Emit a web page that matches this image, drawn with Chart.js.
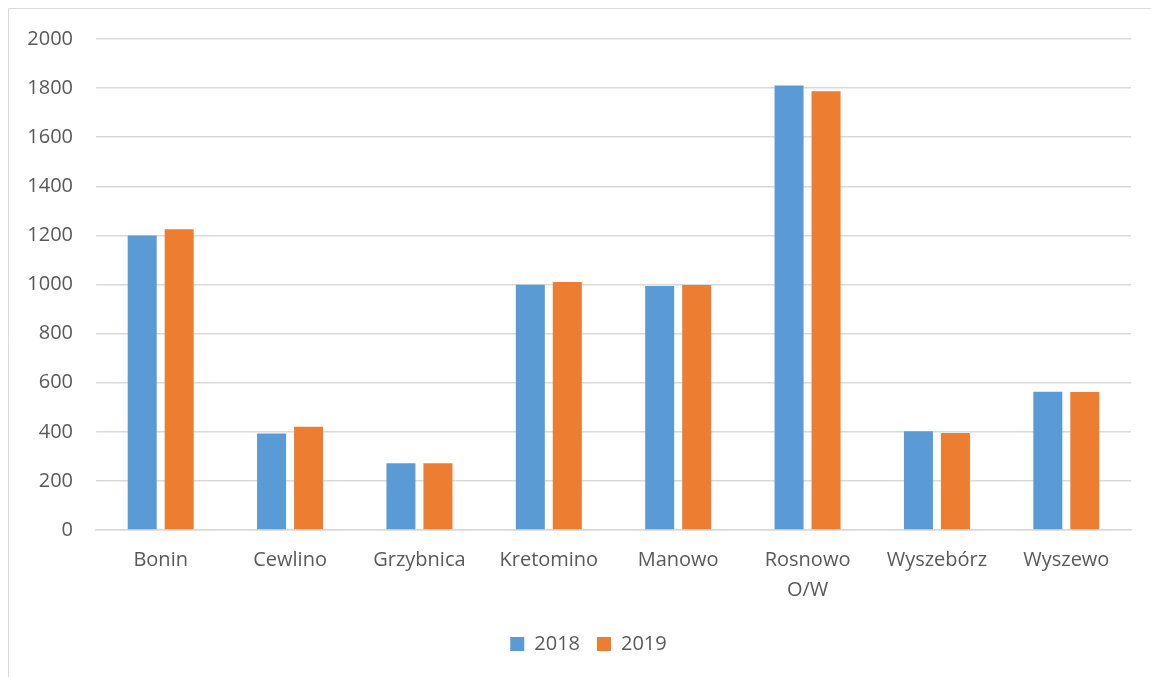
<!DOCTYPE html>
<html>
<head>
<meta charset="utf-8">
<script src="https://cdn.jsdelivr.net/npm/chart.js@4/dist/chart.umd.min.js"></script>
<style>
  html, body { margin: 0; padding: 0; background: #fff; }
  #wrap { position: relative; width: 1151px; height: 677px; }
</style>
</head>
<body>
<div id="wrap"><canvas id="c" width="1151" height="677"></canvas></div>
<script>
const categories = ['Bonin', 'Cewlino', 'Grzybnica', 'Kretomino', 'Manowo', ['Rosnowo', 'O/W'], 'Wyszebórz', 'Wyszewo'];
const seriesNames = ['2018', '2019'];
const values2018 = [1200, 393, 272, 999, 994, 1811, 402, 563];
const values2019 = [1225, 421, 272, 1010, 998, 1787, 395, 562];
const yTicks = [0, 200, 400, 600, 800, 1000, 1200, 1400, 1600, 1800, 2000];

const frame = {
  id: 'frame',
  beforeDraw(chart) {
    const ctx = chart.ctx;
    ctx.save();
    ctx.strokeStyle = '#d9d9d9';
    ctx.lineWidth = 1;
    ctx.beginPath();
    ctx.moveTo(8.5, 677);
    ctx.lineTo(8.5, 8.5);
    ctx.lineTo(1151, 8.5);
    ctx.stroke();
    ctx.restore();
  }
};

const legendShift = {
  id: 'legendShift',
  afterLayout(chart) {
    if (chart.legend) {
      chart.legend.left += 18;
      chart.legend.right += 18;
    }
  }
};

const FONT = '"Open Sans", "Liberation Sans", sans-serif';

new Chart(document.getElementById('c'), {
  type: 'bar',
  data: {
    labels: categories,
    datasets: [
      { label: seriesNames[0], data: values2018, backgroundColor: '#5B9BD5', borderWidth: 0 },
      { label: seriesNames[1], data: values2019, backgroundColor: '#ED7D31', borderWidth: 0 }
    ]
  },
  options: {
    responsive: false,
    animation: false,
    devicePixelRatio: 1,
    layout: { padding: { top: 39, left: 10, right: 20, bottom: 13 } },
    datasets: { bar: { categoryPercentage: 0.572, barPercentage: 0.784 } },
    plugins: {
      tooltip: { enabled: false },
      legend: {
        position: 'bottom',
        labels: {
          boxWidth: 14, boxHeight: 14, padding: 17,
          color: '#595959',
          font: { family: FONT, size: 20 }
        }
      }
    },
    scales: {
      x: {
        grid: { display: false, drawTicks: false },
        border: { color: '#d9d9d9', width: 1.5 },
        ticks: {
          color: '#595959', padding: 15, maxRotation: 0, autoSkip: false,
          font: { family: FONT, size: 20, lineHeight: 1.5 }
        },
        afterFit(s) { s.height = 87; }
      },
      y: {
        min: 0, max: 2000,
        afterBuildTicks(s) { s.ticks = yTicks.map(v => ({ value: v })); },
        grid: { color: '#d9d9d9', lineWidth: 1.5, drawTicks: false },
        border: { display: false },
        ticks: {
          color: '#595959', padding: 23,
          font: { family: FONT, size: 20 },
          callback: (v) => String(v)
        },
        afterFit(s) { s.width = 86; }
      }
    }
  },
  plugins: [frame, legendShift]
});
</script>
</body>
</html>
